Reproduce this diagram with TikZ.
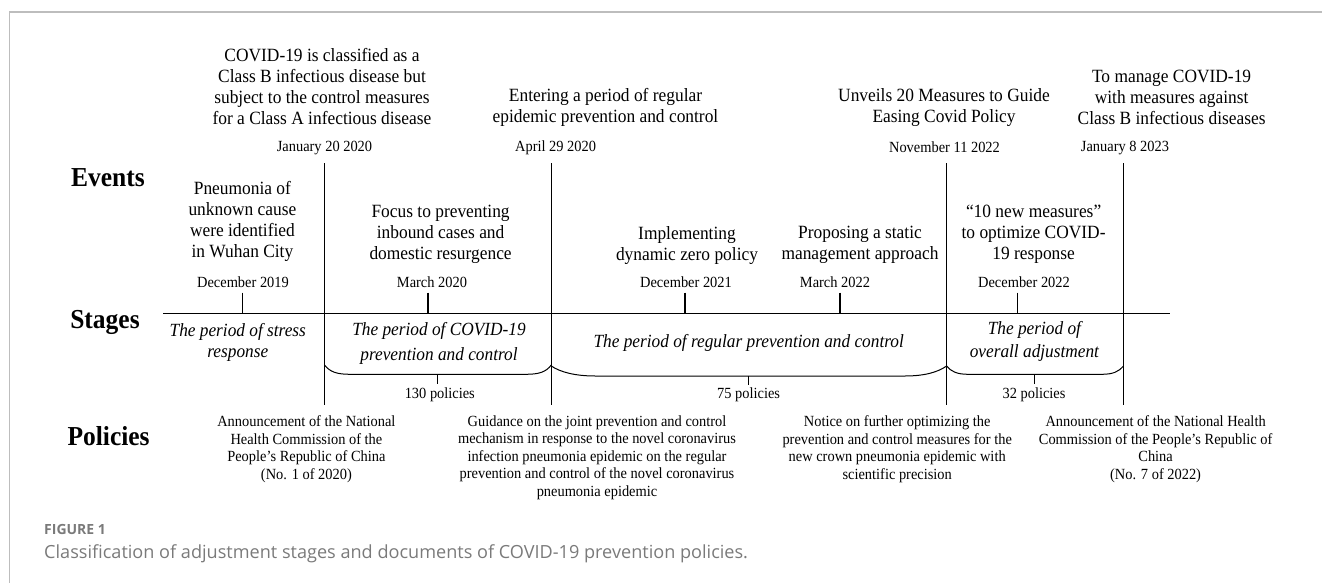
\documentclass[tikz,border=0pt]{standalone}
\usepackage{fontspec}
\setmainfont{Liberation Serif}[FakeStretch=0.93]
\newfontfamily\capfont{Open Sans}
\definecolor{framegray}{HTML}{BDBDBD}
\definecolor{capgray}{HTML}{7A7A7A}
\tikzset{
  evt/.style={inner sep=0pt, align=center, font=\fontsize{18.7}{21}\selectfont},
  dat/.style={inner sep=0pt, font=\fontsize{15.5}{17.5}\selectfont},
  lab/.style={inner sep=0pt, font=\fontsize{27.4}{30}\selectfont\bfseries},
  stg/.style={inner sep=0pt, align=center, font=\fontsize{18.6}{21}\selectfont\itshape},
  pol/.style={inner sep=0pt, align=center, font=\fontsize{15.5}{17.5}\selectfont},
  ln/.style={line width=1pt, black},
  tk/.style={line width=1.3pt, black},
}
\begin{document}
\begin{tikzpicture}[x=1pt,y=-1pt]
\useasboundingbox (0,0) rectangle (1322,583);
% frame
\coordinate (fl) at (9.3,583);
\coordinate (fc) at (9.3,12);
\coordinate (fr) at (1322,12);
\draw[framegray, line width=1.5pt] (fl) -- (fc) -- (fr);

% row labels
\node[lab] (lev) at (108,178) {Events};
\node[lab] (lst) at (105,322.7) {Stages};
\node[lab] (lpo) at (108.6,435.7) {Policies};

% upper events
\node[evt] (e1) at (322,86.5) {COVID-19 is classified as a\\Class B infectious disease but\\subject to the control measures\\for a Class A infectious disease};
\node[evt] (e2) at (605.5,107.5) {Entering a period of regular\\epidemic prevention and control};
\node[evt] (e3) at (944,107.5) {Unveils 20 Measures to Guide\\Easing Covid Policy};
\node[evt] (e4) at (1171.6,97) {To manage COVID-19\\with measures against\\Class B infectious diseases};
\node[dat] (d1) at (324.5,148) {January 20 2020};
\node[dat] (d2) at (555.6,148) {April 29 2020};
\node[dat] (d3) at (944.5,147) {November 11 2022};
\node[dat] (d4) at (1125,148) {January 8 2023};

% lower events
\node[evt] (l1) at (242.4,221) {Pneumonia of\\unknown cause\\were identified\\in Wuhan City};
\node[evt] (l2) at (440.6,234.7) {Focus to preventing\\inbound cases and\\domestic resurgence};
\node[evt] (l3) at (687,245.2) {Implementing\\dynamic zero policy};
\node[evt] (l4) at (860,245.2) {Proposing a static\\management approach};
\node[evt] (l5) at (1033.6,234.7) {“10 new measures”\\to optimize COVID-\\19 response};
\node[dat] (m1) at (243,282.3) {December 2019};
\node[dat] (m2) at (432,282.3) {March 2020};
\node[dat] (m3) at (686,282.3) {December 2021};
\node[dat] (m4) at (835,282.3) {March 2022};
\node[dat] (m5) at (1024,282.3) {December 2022};

% timeline
\coordinate (tl) at (163,313.3);
\coordinate (tr) at (1169.5,313.3);
\draw[ln] (tl) -- (tr);

% ticks
\foreach \n/\x in {a/242.4, b/428, c/685, d/840, e/1017.5}{
  \coordinate (t\n t) at (\x,292.7);
  \coordinate (t\n b) at (\x,313.3);
  \draw[tk] (t\n t) -- (t\n b);
}

% vertical dividers
\foreach \n/\x in {1/324.5, 2/551.3, 3/946.6, 4/1123.5}{
  \coordinate (v\n t) at (\x,163);
  \coordinate (v\n b) at (\x,405);
  \draw[ln] (v\n t) -- (v\n b);
}

% stages
\node[stg] (s1) at (237.8,342.2) {The period of stress\\response};
\node[stg, font=\fontsize{18.6}{25}\selectfont\itshape] (s2) at (439,343.2) {The period of COVID-19\\prevention and control};
\node[stg] (s3) at (748.7,342.7) {The period of regular prevention and control};
\node[stg, font=\fontsize{18.6}{23.3}\selectfont\itshape] (s4) at (1034.4,341.7) {The period of\\overall adjustment};

% brackets
\coordinate (b2l) at (324.5,365);
\coordinate (b2r) at (551.3,365);
\draw[ln] (b2l) .. controls (330,372) and (337,374.3) .. (350,374.3)
  -- (526,374.3) .. controls (539,374.3) and (546,372) .. (b2r);
\coordinate (b2t) at (437.7,374.3);
\coordinate (b2u) at (437.7,384);
\draw[tk] (b2t) -- (b2u);

\coordinate (b3l) at (551.3,366);
\coordinate (b3r) at (946.6,366);
\draw[ln] (b3l) .. controls (560,372) and (575,376) .. (595,376)
  -- (905,376) .. controls (925,376) and (938,372) .. (b3r);
\coordinate (b3t) at (748.6,376);
\coordinate (b3u) at (748.6,385);
\draw[tk] (b3t) -- (b3u);

\coordinate (b4l) at (946.6,366);
\coordinate (b4r) at (1123.5,366);
\draw[ln] (b4l) .. controls (951,371.5) and (957,374.3) .. (968,374.3)
  -- (1102,374.3) .. controls (1113,374.3) and (1119,371.5) .. (b4r);
\coordinate (b4t) at (1034.8,374.3);
\coordinate (b4u) at (1034.8,383.5);
\draw[tk] (b4t) -- (b4u);

\node[dat] (c2) at (439.8,394.3) {130 policies};
\node[dat] (c3) at (748.6,394.3) {75 policies};
\node[dat] (c4) at (1034,394.3) {32 policies};

% policies
\node[pol] (p1) at (306.4,449) {Announcement of the National\\Health Commission of the\\People's Republic of China\\(No. 1 of 2020)};
\node[pol] (p2) at (597,457.5) {Guidance on the joint prevention and control\\mechanism in response to the novel coronavirus\\infection pneumonia epidemic on the regular\\prevention and control of the novel coronavirus\\pneumonia epidemic};
\node[pol] (p3) at (897.2,449) {Notice on further optimizing the\\prevention and control measures for the\\new crown pneumonia epidemic with\\scientific precision};
\node[pol] (p4) at (1155.6,449) {Announcement of the National Health\\Commission of the People's Republic of\\China\\(No. 7 of 2022)};

% caption
\node[anchor=west, inner sep=0pt, text=capgray, font={\fontsize{14}{16}\selectfont\capfont\bfseries}] (fig) at (44,529.3) {FIGURE 1};
\node[anchor=west, inner sep=0pt, text=capgray, font={\fontsize{18.1}{21}\selectfont\capfont}] (cap) at (44,553.3) {Classification of adjustment stages and documents of COVID-19 prevention policies.};
\end{tikzpicture}
\end{document}
